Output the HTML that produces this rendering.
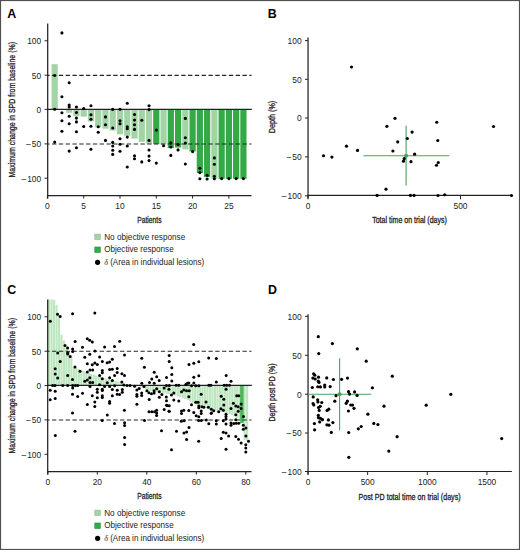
<!DOCTYPE html>
<html><head><meta charset="utf-8"><style>
html,body{margin:0;padding:0;background:#fff;width:520px;height:550px;overflow:hidden;}
svg{display:block;}
text{font-family:"Liberation Sans", sans-serif;}
.ti{stroke:#222;stroke-width:0.3px;}
</style></head><body>
<svg width="520" height="550" viewBox="0 0 520 550" font-family='"Liberation Sans", sans-serif'>
<rect x="0" y="0" width="520" height="550" fill="#fff"/>
<rect x="51.56" y="64.20" width="6.20" height="45.20" fill="#a3d4a6"/>
<rect x="66.08" y="109.40" width="6.20" height="3.40" fill="#a3d4a6"/>
<rect x="73.34" y="109.40" width="6.20" height="6.90" fill="#a3d4a6"/>
<rect x="80.60" y="109.40" width="6.20" height="7.20" fill="#a3d4a6"/>
<rect x="87.86" y="109.40" width="6.20" height="12.00" fill="#a3d4a6"/>
<rect x="95.12" y="109.40" width="6.20" height="18.00" fill="#a3d4a6"/>
<rect x="102.38" y="109.40" width="6.20" height="19.30" fill="#a3d4a6"/>
<rect x="109.64" y="109.40" width="6.20" height="21.10" fill="#a3d4a6"/>
<rect x="116.90" y="109.40" width="6.20" height="24.90" fill="#a3d4a6"/>
<rect x="124.16" y="109.40" width="6.20" height="26.40" fill="#a3d4a6"/>
<rect x="131.42" y="109.40" width="6.20" height="29.20" fill="#a3d4a6"/>
<rect x="138.68" y="109.40" width="6.20" height="32.40" fill="#a3d4a6"/>
<rect x="145.94" y="109.40" width="6.20" height="34.30" fill="#a3d4a6"/>
<rect x="153.20" y="109.40" width="6.20" height="34.70" fill="#35a945"/>
<rect x="160.46" y="109.40" width="6.20" height="35.20" fill="#a3d4a6"/>
<rect x="167.72" y="109.40" width="6.20" height="38.60" fill="#35a945"/>
<rect x="174.98" y="109.40" width="6.20" height="38.10" fill="#35a945"/>
<rect x="182.24" y="109.40" width="6.20" height="40.00" fill="#a3d4a6"/>
<rect x="189.50" y="109.40" width="6.20" height="42.00" fill="#35a945"/>
<rect x="196.76" y="109.40" width="6.20" height="63.60" fill="#35a945"/>
<rect x="204.02" y="109.40" width="6.20" height="67.60" fill="#35a945"/>
<rect x="211.28" y="109.40" width="6.20" height="69.40" fill="#a3d4a6"/>
<rect x="218.54" y="109.40" width="6.20" height="69.40" fill="#35a945"/>
<rect x="225.80" y="109.40" width="6.20" height="69.40" fill="#35a945"/>
<rect x="233.06" y="109.40" width="6.20" height="69.40" fill="#35a945"/>
<rect x="240.32" y="109.40" width="6.20" height="69.40" fill="#35a945"/>
<line x1="48" y1="75.4" x2="251.5" y2="75.4" stroke="#262626" stroke-width="1.1" stroke-dasharray="4.3 2.5" stroke-dashoffset="2.73"/>
<line x1="48" y1="144.0" x2="251.5" y2="144.0" stroke="#262626" stroke-width="1.1" stroke-dasharray="4.3 2.5" stroke-dashoffset="2.73"/>
<line x1="47.7" y1="109.4" x2="251.8" y2="109.4" stroke="#222" stroke-width="1.2"/>
<line x1="47.7" y1="23.5" x2="47.7" y2="198.4" stroke="#222" stroke-width="1.25"/>
<line x1="47.1" y1="195.6" x2="251.5" y2="195.6" stroke="#222" stroke-width="1.2"/>
<line x1="44.6" y1="40.8" x2="47.9" y2="40.8" stroke="#222" stroke-width="1"/>
<line x1="44.6" y1="75.2" x2="47.9" y2="75.2" stroke="#222" stroke-width="1"/>
<line x1="44.6" y1="109.4" x2="47.9" y2="109.4" stroke="#222" stroke-width="1"/>
<line x1="44.6" y1="143.9" x2="47.9" y2="143.9" stroke="#222" stroke-width="1"/>
<line x1="44.6" y1="178.2" x2="47.9" y2="178.2" stroke="#222" stroke-width="1"/>
<text x="41.20" y="44.10" font-size="8.4" text-anchor="end" fill="#222" >100</text>
<text x="41.20" y="78.50" font-size="8.4" text-anchor="end" fill="#222" >50</text>
<text x="41.20" y="112.70" font-size="8.4" text-anchor="end" fill="#222" >0</text>
<text x="41.20" y="147.20" font-size="8.4" text-anchor="end" fill="#222" >–<tspan dx="1.1">50</tspan></text>
<text x="41.20" y="181.50" font-size="8.4" text-anchor="end" fill="#222" >–<tspan dx="1.1">100</tspan></text>
<line x1="47.40" y1="195.6" x2="47.40" y2="198.6" stroke="#222" stroke-width="1"/>
<text x="47.40" y="209.10" font-size="8.4" text-anchor="middle" fill="#222" >0</text>
<line x1="83.70" y1="195.6" x2="83.70" y2="198.6" stroke="#222" stroke-width="1"/>
<text x="83.70" y="209.10" font-size="8.4" text-anchor="middle" fill="#222" >5</text>
<line x1="120.00" y1="195.6" x2="120.00" y2="198.6" stroke="#222" stroke-width="1"/>
<text x="120.00" y="209.10" font-size="8.4" text-anchor="middle" fill="#222" >10</text>
<line x1="156.30" y1="195.6" x2="156.30" y2="198.6" stroke="#222" stroke-width="1"/>
<text x="156.30" y="209.10" font-size="8.4" text-anchor="middle" fill="#222" >15</text>
<line x1="192.60" y1="195.6" x2="192.60" y2="198.6" stroke="#222" stroke-width="1"/>
<text x="192.60" y="209.10" font-size="8.4" text-anchor="middle" fill="#222" >20</text>
<line x1="228.90" y1="195.6" x2="228.90" y2="198.6" stroke="#222" stroke-width="1"/>
<text x="228.90" y="209.10" font-size="8.4" text-anchor="middle" fill="#222" >25</text>
<g fill="#000">
<circle cx="54.66" cy="75.50" r="1.55"/>
<circle cx="54.66" cy="109.20" r="1.55"/>
<circle cx="54.66" cy="142.10" r="1.55"/>
<circle cx="61.92" cy="32.90" r="1.55"/>
<circle cx="61.92" cy="96.70" r="1.55"/>
<circle cx="61.92" cy="112.80" r="1.55"/>
<circle cx="61.92" cy="120.70" r="1.55"/>
<circle cx="61.92" cy="131.25" r="1.55"/>
<circle cx="69.18" cy="82.80" r="1.55"/>
<circle cx="69.18" cy="105.10" r="1.55"/>
<circle cx="69.18" cy="107.00" r="1.55"/>
<circle cx="69.18" cy="116.20" r="1.55"/>
<circle cx="69.18" cy="123.70" r="1.55"/>
<circle cx="69.18" cy="151.10" r="1.55"/>
<circle cx="76.44" cy="107.00" r="1.55"/>
<circle cx="76.44" cy="112.50" r="1.55"/>
<circle cx="76.44" cy="118.10" r="1.55"/>
<circle cx="76.44" cy="121.90" r="1.55"/>
<circle cx="76.44" cy="131.80" r="1.55"/>
<circle cx="76.44" cy="147.70" r="1.55"/>
<circle cx="83.70" cy="108.50" r="1.55"/>
<circle cx="83.70" cy="126.50" r="1.55"/>
<circle cx="90.96" cy="105.80" r="1.55"/>
<circle cx="90.96" cy="114.70" r="1.55"/>
<circle cx="90.96" cy="119.30" r="1.55"/>
<circle cx="90.96" cy="126.25" r="1.55"/>
<circle cx="90.96" cy="149.20" r="1.55"/>
<circle cx="98.22" cy="126.70" r="1.55"/>
<circle cx="98.22" cy="132.20" r="1.55"/>
<circle cx="105.48" cy="116.90" r="1.55"/>
<circle cx="105.48" cy="124.80" r="1.55"/>
<circle cx="105.48" cy="140.40" r="1.55"/>
<circle cx="112.74" cy="109.40" r="1.55"/>
<circle cx="112.74" cy="128.00" r="1.55"/>
<circle cx="112.74" cy="142.40" r="1.55"/>
<circle cx="112.74" cy="146.00" r="1.55"/>
<circle cx="112.74" cy="150.30" r="1.55"/>
<circle cx="112.74" cy="154.40" r="1.55"/>
<circle cx="120.00" cy="109.20" r="1.55"/>
<circle cx="120.00" cy="120.80" r="1.55"/>
<circle cx="120.00" cy="123.70" r="1.55"/>
<circle cx="120.00" cy="138.80" r="1.55"/>
<circle cx="120.00" cy="144.20" r="1.55"/>
<circle cx="120.00" cy="151.20" r="1.55"/>
<circle cx="127.26" cy="103.20" r="1.55"/>
<circle cx="127.26" cy="126.70" r="1.55"/>
<circle cx="127.26" cy="128.70" r="1.55"/>
<circle cx="127.26" cy="137.10" r="1.55"/>
<circle cx="127.26" cy="146.00" r="1.55"/>
<circle cx="127.26" cy="167.00" r="1.55"/>
<circle cx="134.52" cy="114.50" r="1.55"/>
<circle cx="134.52" cy="120.00" r="1.55"/>
<circle cx="134.52" cy="124.80" r="1.55"/>
<circle cx="134.52" cy="129.40" r="1.55"/>
<circle cx="134.52" cy="155.80" r="1.55"/>
<circle cx="134.52" cy="158.70" r="1.55"/>
<circle cx="141.78" cy="120.30" r="1.55"/>
<circle cx="141.78" cy="161.90" r="1.55"/>
<circle cx="149.04" cy="105.80" r="1.55"/>
<circle cx="149.04" cy="109.60" r="1.55"/>
<circle cx="149.04" cy="140.40" r="1.55"/>
<circle cx="149.04" cy="150.00" r="1.55"/>
<circle cx="149.04" cy="156.10" r="1.55"/>
<circle cx="149.04" cy="160.60" r="1.55"/>
<circle cx="156.30" cy="130.10" r="1.55"/>
<circle cx="156.30" cy="163.10" r="1.55"/>
<circle cx="163.56" cy="145.80" r="1.55"/>
<circle cx="170.82" cy="142.90" r="1.55"/>
<circle cx="170.82" cy="147.00" r="1.55"/>
<circle cx="170.82" cy="155.40" r="1.55"/>
<circle cx="178.08" cy="144.40" r="1.55"/>
<circle cx="178.08" cy="149.90" r="1.55"/>
<circle cx="185.34" cy="118.40" r="1.55"/>
<circle cx="185.34" cy="137.70" r="1.55"/>
<circle cx="185.34" cy="143.00" r="1.55"/>
<circle cx="185.34" cy="164.00" r="1.55"/>
<circle cx="192.60" cy="151.60" r="1.55"/>
<circle cx="199.86" cy="168.30" r="1.55"/>
<circle cx="199.86" cy="172.60" r="1.55"/>
<circle cx="199.86" cy="178.80" r="1.55"/>
<circle cx="207.12" cy="175.30" r="1.55"/>
<circle cx="207.12" cy="179.00" r="1.55"/>
<circle cx="214.38" cy="157.90" r="1.55"/>
<circle cx="214.38" cy="164.20" r="1.55"/>
<circle cx="214.38" cy="176.30" r="1.55"/>
<circle cx="214.38" cy="178.80" r="1.55"/>
<circle cx="221.64" cy="178.60" r="1.55"/>
<circle cx="228.90" cy="178.60" r="1.55"/>
<circle cx="236.16" cy="178.60" r="1.55"/>
<circle cx="243.42" cy="178.60" r="1.55"/>
</g>
<text x="7.3" y="17.8" font-size="12.4" font-weight="bold" fill="#000">A</text>
<text x="149.4" y="223.1" font-size="9.2" text-anchor="middle" fill="#222" class="ti" textLength="24.2" lengthAdjust="spacingAndGlyphs">Patients</text>
<text transform="translate(14.9,109.75) rotate(-90)" x="0" y="0" font-size="9.6" text-anchor="middle" fill="#222" class="ti" textLength="135.5" lengthAdjust="spacingAndGlyphs">Maximum change in SPD from baseline (%)</text>
<rect x="94.8" y="234.1" width="5.5" height="5.5" fill="#a3d4a6" stroke="#8db893" stroke-width="0.6"/>
<rect x="94.8" y="247.0" width="5.5" height="5.5" fill="#30ad45" stroke="#26883a" stroke-width="0.6"/>
<circle cx="97.6" cy="262.3" r="2.6" fill="#000"/>
<text x="104.2" y="239.8" font-size="8.6" fill="#222" textLength="81" lengthAdjust="spacingAndGlyphs">No objective response</text>
<text x="104.2" y="252.2" font-size="8.6" fill="#222" textLength="69.5" lengthAdjust="spacingAndGlyphs">Objective response</text>
<text x="104.2" y="265.0" font-size="8.6" fill="#222" textLength="100" lengthAdjust="spacingAndGlyphs"><tspan font-family="'Liberation Serif', serif" font-style="italic">δ</tspan> (Area in individual lesions)</text>
<line x1="308.05" y1="37.5" x2="308.05" y2="198.5" stroke="#484848" stroke-width="1.5"/>
<line x1="307.5" y1="195.4" x2="511.8" y2="195.4" stroke="#222" stroke-width="1.1"/>
<line x1="305" y1="40.6" x2="308" y2="40.6" stroke="#222" stroke-width="1"/>
<text x="301.60" y="43.90" font-size="8.4" text-anchor="end" fill="#222" >100</text>
<line x1="305" y1="79.3" x2="308" y2="79.3" stroke="#222" stroke-width="1"/>
<text x="301.60" y="82.60" font-size="8.4" text-anchor="end" fill="#222" >50</text>
<line x1="305" y1="118" x2="308" y2="118" stroke="#222" stroke-width="1"/>
<text x="301.60" y="121.30" font-size="8.4" text-anchor="end" fill="#222" >0</text>
<line x1="305" y1="156.9" x2="308" y2="156.9" stroke="#222" stroke-width="1"/>
<text x="301.60" y="160.20" font-size="8.4" text-anchor="end" fill="#222" >–<tspan dx="1.1">50</tspan></text>
<line x1="305" y1="195.8" x2="308" y2="195.8" stroke="#222" stroke-width="1"/>
<text x="301.60" y="199.10" font-size="8.4" text-anchor="end" fill="#222" >–<tspan dx="1.1">100</tspan></text>
<line x1="308.00" y1="195.8" x2="308.00" y2="199.3" stroke="#222" stroke-width="1"/>
<text x="308.00" y="209.20" font-size="8.4" text-anchor="middle" fill="#222" >0</text>
<line x1="460.50" y1="195.8" x2="460.50" y2="199.3" stroke="#222" stroke-width="1"/>
<text x="460.50" y="209.20" font-size="8.4" text-anchor="middle" fill="#222" >500</text>
<line x1="363.3" y1="155.8" x2="449.3" y2="155.8" stroke="#47a45a" stroke-width="1.1"/>
<line x1="406.1" y1="125.5" x2="406.1" y2="185.6" stroke="#47a45a" stroke-width="1.1"/>
<circle cx="406.1" cy="155.8" r="2.1" fill="#47a45a"/>
<g fill="#000">
<circle cx="351.50" cy="67.00" r="1.6"/>
<circle cx="395.00" cy="118.30" r="1.6"/>
<circle cx="386.90" cy="126.30" r="1.6"/>
<circle cx="436.75" cy="122.25" r="1.6"/>
<circle cx="493.50" cy="126.50" r="1.6"/>
<circle cx="412.10" cy="132.10" r="1.6"/>
<circle cx="407.30" cy="138.50" r="1.6"/>
<circle cx="397.70" cy="141.90" r="1.6"/>
<circle cx="437.75" cy="140.50" r="1.6"/>
<circle cx="346.50" cy="146.20" r="1.6"/>
<circle cx="357.50" cy="150.40" r="1.6"/>
<circle cx="392.90" cy="151.00" r="1.6"/>
<circle cx="323.50" cy="155.75" r="1.6"/>
<circle cx="331.90" cy="157.10" r="1.6"/>
<circle cx="414.60" cy="154.20" r="1.6"/>
<circle cx="404.20" cy="158.70" r="1.6"/>
<circle cx="403.50" cy="161.20" r="1.6"/>
<circle cx="411.00" cy="161.70" r="1.6"/>
<circle cx="438.25" cy="162.50" r="1.6"/>
<circle cx="436.50" cy="165.25" r="1.6"/>
<circle cx="386.00" cy="189.20" r="1.6"/>
<circle cx="377.10" cy="195.40" r="1.6"/>
<circle cx="410.40" cy="195.40" r="1.6"/>
<circle cx="414.00" cy="195.40" r="1.6"/>
<circle cx="438.00" cy="195.50" r="1.6"/>
<circle cx="444.75" cy="194.75" r="1.6"/>
<circle cx="511.50" cy="195.50" r="1.6"/>
</g>
<text x="267.7" y="17.8" font-size="12.4" font-weight="bold" fill="#000">B</text>
<text x="409.55" y="223.4" font-size="9.2" text-anchor="middle" fill="#222" class="ti" textLength="74.8" lengthAdjust="spacingAndGlyphs">Total time on trial (days)</text>
<text transform="translate(275.4,117.0) rotate(-90)" x="0" y="0" font-size="9.0" text-anchor="middle" fill="#222" class="ti" textLength="32.3" lengthAdjust="spacingAndGlyphs">Depth (%)</text>
<rect x="48.05" y="299.50" width="2.12" height="85.90" fill="#bee6bf"/>
<rect x="50.52" y="299.50" width="2.12" height="85.90" fill="#bee6bf"/>
<rect x="53.00" y="300.00" width="2.12" height="85.40" fill="#bee6bf"/>
<rect x="55.47" y="305.00" width="2.12" height="80.40" fill="#bee6bf"/>
<rect x="57.95" y="315.00" width="2.12" height="70.40" fill="#bee6bf"/>
<rect x="60.42" y="335.00" width="2.12" height="50.40" fill="#bee6bf"/>
<rect x="62.90" y="340.50" width="2.13" height="44.90" fill="#bee6bf"/>
<rect x="65.38" y="346.00" width="2.12" height="39.40" fill="#bee6bf"/>
<rect x="67.85" y="352.00" width="2.13" height="33.40" fill="#bee6bf"/>
<rect x="70.33" y="357.00" width="2.12" height="28.40" fill="#bee6bf"/>
<rect x="72.80" y="366.50" width="2.13" height="18.90" fill="#bee6bf"/>
<rect x="75.28" y="368.00" width="2.12" height="17.40" fill="#bee6bf"/>
<rect x="77.75" y="369.00" width="2.12" height="16.40" fill="#bee6bf"/>
<rect x="80.22" y="370.00" width="2.12" height="15.40" fill="#bee6bf"/>
<rect x="82.70" y="371.00" width="2.13" height="14.40" fill="#bee6bf"/>
<rect x="85.17" y="372.00" width="2.13" height="13.40" fill="#bee6bf"/>
<rect x="87.65" y="373.00" width="2.12" height="12.40" fill="#bee6bf"/>
<rect x="90.12" y="374.00" width="2.12" height="11.40" fill="#bee6bf"/>
<rect x="92.60" y="374.50" width="2.12" height="10.90" fill="#bee6bf"/>
<rect x="95.07" y="375.50" width="2.13" height="9.90" fill="#bee6bf"/>
<rect x="97.55" y="376.50" width="2.13" height="8.90" fill="#bee6bf"/>
<rect x="100.03" y="377.00" width="2.12" height="8.40" fill="#bee6bf"/>
<rect x="102.50" y="378.00" width="2.12" height="7.40" fill="#bee6bf"/>
<rect x="104.97" y="378.50" width="2.13" height="6.90" fill="#bee6bf"/>
<rect x="107.45" y="379.00" width="2.12" height="6.40" fill="#bee6bf"/>
<rect x="109.92" y="380.00" width="2.13" height="5.40" fill="#bee6bf"/>
<rect x="112.40" y="380.50" width="2.12" height="4.90" fill="#bee6bf"/>
<rect x="114.88" y="381.00" width="2.12" height="4.40" fill="#bee6bf"/>
<rect x="117.35" y="381.50" width="2.13" height="3.90" fill="#bee6bf"/>
<rect x="119.83" y="382.00" width="2.12" height="3.40" fill="#bee6bf"/>
<rect x="122.30" y="383.50" width="2.13" height="1.90" fill="#bee6bf"/>
<rect x="139.62" y="385.40" width="2.12" height="1.60" fill="#bee6bf"/>
<rect x="142.10" y="385.40" width="2.12" height="2.60" fill="#bee6bf"/>
<rect x="144.57" y="385.40" width="2.13" height="3.60" fill="#bee6bf"/>
<rect x="147.05" y="385.40" width="2.12" height="4.60" fill="#bee6bf"/>
<rect x="149.53" y="385.40" width="2.12" height="5.60" fill="#bee6bf"/>
<rect x="152.00" y="385.40" width="2.12" height="6.10" fill="#bee6bf"/>
<rect x="154.47" y="385.40" width="2.12" height="6.60" fill="#bee6bf"/>
<rect x="156.95" y="385.40" width="2.13" height="6.90" fill="#bee6bf"/>
<rect x="159.43" y="385.40" width="2.12" height="7.20" fill="#bee6bf"/>
<rect x="161.90" y="385.40" width="2.12" height="7.60" fill="#bee6bf"/>
<rect x="164.38" y="385.40" width="2.13" height="8.10" fill="#bee6bf"/>
<rect x="166.85" y="385.40" width="2.12" height="8.60" fill="#bee6bf"/>
<rect x="169.32" y="385.40" width="2.13" height="9.10" fill="#bee6bf"/>
<rect x="171.80" y="385.40" width="2.12" height="9.60" fill="#bee6bf"/>
<rect x="174.28" y="385.40" width="2.12" height="10.10" fill="#bee6bf"/>
<rect x="176.75" y="385.40" width="2.13" height="10.90" fill="#bee6bf"/>
<rect x="179.23" y="385.40" width="2.12" height="11.60" fill="#bee6bf"/>
<rect x="181.70" y="385.40" width="2.13" height="12.60" fill="#bee6bf"/>
<rect x="184.18" y="385.40" width="2.12" height="13.60" fill="#bee6bf"/>
<rect x="186.65" y="385.40" width="2.13" height="14.60" fill="#bee6bf"/>
<rect x="189.12" y="385.40" width="2.13" height="16.10" fill="#bee6bf"/>
<rect x="191.60" y="385.40" width="2.12" height="17.60" fill="#bee6bf"/>
<rect x="194.07" y="385.40" width="2.13" height="18.60" fill="#bee6bf"/>
<rect x="196.55" y="385.40" width="2.12" height="19.60" fill="#bee6bf"/>
<rect x="199.02" y="385.40" width="2.13" height="20.60" fill="#bee6bf"/>
<rect x="201.50" y="385.40" width="2.13" height="21.60" fill="#bee6bf"/>
<rect x="203.98" y="385.40" width="2.12" height="22.40" fill="#bee6bf"/>
<rect x="206.45" y="385.40" width="2.13" height="23.10" fill="#bee6bf"/>
<rect x="208.93" y="385.40" width="2.12" height="23.80" fill="#bee6bf"/>
<rect x="211.40" y="385.40" width="2.13" height="24.40" fill="#bee6bf"/>
<rect x="213.88" y="385.40" width="2.13" height="25.00" fill="#bee6bf"/>
<rect x="216.35" y="385.40" width="2.12" height="25.60" fill="#bee6bf"/>
<rect x="218.82" y="385.40" width="2.13" height="26.10" fill="#bee6bf"/>
<rect x="221.30" y="385.40" width="2.12" height="26.60" fill="#bee6bf"/>
<rect x="223.77" y="385.40" width="2.13" height="27.10" fill="#bee6bf"/>
<rect x="226.25" y="385.40" width="2.13" height="27.60" fill="#bee6bf"/>
<rect x="228.73" y="385.40" width="2.12" height="28.60" fill="#bee6bf"/>
<rect x="231.20" y="385.40" width="2.13" height="29.60" fill="#bee6bf"/>
<rect x="233.68" y="385.40" width="2.12" height="31.10" fill="#bee6bf"/>
<rect x="236.15" y="385.40" width="2.13" height="32.60" fill="#bee6bf"/>
<rect x="238.62" y="385.40" width="2.13" height="34.60" fill="#bee6bf"/>
<rect x="240.1" y="385.40" width="3.9" height="37.60" fill="#4cb65a"/>
<rect x="243.57" y="385.40" width="2.13" height="54.60" fill="#bee6bf"/>
<rect x="246.05" y="385.40" width="2.12" height="55.60" fill="#bee6bf"/>
<line x1="48" y1="351.3" x2="251.5" y2="351.3" stroke="#262626" stroke-width="1.1" stroke-dasharray="4.3 2.5" stroke-dashoffset="2.73"/>
<line x1="48" y1="420.0" x2="251.5" y2="420.0" stroke="#262626" stroke-width="1.1" stroke-dasharray="4.3 2.5" stroke-dashoffset="2.73"/>
<line x1="47.7" y1="385.4" x2="251.8" y2="385.4" stroke="#222" stroke-width="1.2"/>
<line x1="47.7" y1="299.5" x2="47.7" y2="474.4" stroke="#222" stroke-width="1.25"/>
<line x1="47.1" y1="471.6" x2="251.5" y2="471.6" stroke="#222" stroke-width="1.2"/>
<line x1="44.6" y1="316.8" x2="47.9" y2="316.8" stroke="#222" stroke-width="1"/>
<text x="41.20" y="320.10" font-size="8.4" text-anchor="end" fill="#222" >100</text>
<line x1="44.6" y1="351.2" x2="47.9" y2="351.2" stroke="#222" stroke-width="1"/>
<text x="41.20" y="354.50" font-size="8.4" text-anchor="end" fill="#222" >50</text>
<line x1="44.6" y1="385.5" x2="47.9" y2="385.5" stroke="#222" stroke-width="1"/>
<text x="41.20" y="388.80" font-size="8.4" text-anchor="end" fill="#222" >0</text>
<line x1="44.6" y1="419.9" x2="47.9" y2="419.9" stroke="#222" stroke-width="1"/>
<text x="41.20" y="423.20" font-size="8.4" text-anchor="end" fill="#222" >–<tspan dx="1.1">50</tspan></text>
<line x1="44.6" y1="454.3" x2="47.9" y2="454.3" stroke="#222" stroke-width="1"/>
<text x="41.20" y="457.60" font-size="8.4" text-anchor="end" fill="#222" >–<tspan dx="1.1">100</tspan></text>
<line x1="47.80" y1="471.6" x2="47.80" y2="474.6" stroke="#222" stroke-width="1"/>
<text x="47.80" y="485.10" font-size="8.4" text-anchor="middle" fill="#222" >0</text>
<line x1="97.30" y1="471.6" x2="97.30" y2="474.6" stroke="#222" stroke-width="1"/>
<text x="97.30" y="485.10" font-size="8.4" text-anchor="middle" fill="#222" >20</text>
<line x1="146.80" y1="471.6" x2="146.80" y2="474.6" stroke="#222" stroke-width="1"/>
<text x="146.80" y="485.10" font-size="8.4" text-anchor="middle" fill="#222" >40</text>
<line x1="196.30" y1="471.6" x2="196.30" y2="474.6" stroke="#222" stroke-width="1"/>
<text x="196.30" y="485.10" font-size="8.4" text-anchor="middle" fill="#222" >60</text>
<line x1="245.80" y1="471.6" x2="245.80" y2="474.6" stroke="#222" stroke-width="1"/>
<text x="245.80" y="485.10" font-size="8.4" text-anchor="middle" fill="#222" >80</text>
<g fill="#000">
<circle cx="50.30" cy="321.30" r="1.5"/>
<circle cx="57.50" cy="314.20" r="1.5"/>
<circle cx="60.20" cy="316.50" r="1.5"/>
<circle cx="72.60" cy="313.75" r="1.5"/>
<circle cx="94.80" cy="313.00" r="1.5"/>
<circle cx="87.30" cy="338.75" r="1.5"/>
<circle cx="89.70" cy="340.20" r="1.5"/>
<circle cx="92.30" cy="342.10" r="1.5"/>
<circle cx="75.10" cy="341.50" r="1.5"/>
<circle cx="82.50" cy="347.30" r="1.5"/>
<circle cx="65.00" cy="345.40" r="1.5"/>
<circle cx="67.60" cy="347.90" r="1.5"/>
<circle cx="72.60" cy="349.00" r="1.5"/>
<circle cx="119.70" cy="341.20" r="1.5"/>
<circle cx="104.60" cy="346.90" r="1.5"/>
<circle cx="114.50" cy="346.60" r="1.5"/>
<circle cx="193.70" cy="344.60" r="1.5"/>
<circle cx="72.70" cy="351.50" r="1.5"/>
<circle cx="57.70" cy="352.90" r="1.5"/>
<circle cx="67.70" cy="352.70" r="1.5"/>
<circle cx="67.70" cy="354.10" r="1.5"/>
<circle cx="70.20" cy="356.50" r="1.5"/>
<circle cx="84.80" cy="357.30" r="1.5"/>
<circle cx="60.20" cy="361.50" r="1.5"/>
<circle cx="75.00" cy="366.90" r="1.5"/>
<circle cx="80.00" cy="371.20" r="1.5"/>
<circle cx="55.20" cy="368.80" r="1.5"/>
<circle cx="55.20" cy="374.10" r="1.5"/>
<circle cx="57.70" cy="377.90" r="1.5"/>
<circle cx="67.70" cy="375.60" r="1.5"/>
<circle cx="72.50" cy="379.60" r="1.5"/>
<circle cx="84.80" cy="381.20" r="1.5"/>
<circle cx="95.00" cy="351.00" r="1.5"/>
<circle cx="89.80" cy="354.20" r="1.5"/>
<circle cx="124.50" cy="354.90" r="1.5"/>
<circle cx="99.60" cy="356.90" r="1.5"/>
<circle cx="112.30" cy="359.20" r="1.5"/>
<circle cx="102.30" cy="361.40" r="1.5"/>
<circle cx="107.20" cy="362.70" r="1.5"/>
<circle cx="109.60" cy="362.10" r="1.5"/>
<circle cx="87.30" cy="363.70" r="1.5"/>
<circle cx="92.30" cy="364.80" r="1.5"/>
<circle cx="94.80" cy="363.10" r="1.5"/>
<circle cx="97.30" cy="364.60" r="1.5"/>
<circle cx="90.00" cy="370.00" r="1.5"/>
<circle cx="92.70" cy="370.00" r="1.5"/>
<circle cx="87.30" cy="371.90" r="1.5"/>
<circle cx="102.30" cy="370.40" r="1.5"/>
<circle cx="102.30" cy="372.80" r="1.5"/>
<circle cx="109.60" cy="369.50" r="1.5"/>
<circle cx="112.30" cy="369.20" r="1.5"/>
<circle cx="117.20" cy="368.50" r="1.5"/>
<circle cx="117.20" cy="372.50" r="1.5"/>
<circle cx="99.60" cy="375.40" r="1.5"/>
<circle cx="114.60" cy="375.60" r="1.5"/>
<circle cx="121.90" cy="373.80" r="1.5"/>
<circle cx="124.50" cy="375.40" r="1.5"/>
<circle cx="89.80" cy="377.70" r="1.5"/>
<circle cx="102.30" cy="378.80" r="1.5"/>
<circle cx="109.60" cy="377.70" r="1.5"/>
<circle cx="112.30" cy="380.40" r="1.5"/>
<circle cx="87.30" cy="380.00" r="1.5"/>
<circle cx="90.00" cy="382.50" r="1.5"/>
<circle cx="92.70" cy="382.50" r="1.5"/>
<circle cx="107.30" cy="382.80" r="1.5"/>
<circle cx="121.90" cy="381.90" r="1.5"/>
<circle cx="141.80" cy="358.20" r="1.5"/>
<circle cx="144.40" cy="367.20" r="1.5"/>
<circle cx="154.20" cy="372.30" r="1.5"/>
<circle cx="156.70" cy="376.70" r="1.5"/>
<circle cx="151.80" cy="379.10" r="1.5"/>
<circle cx="159.20" cy="380.50" r="1.5"/>
<circle cx="149.50" cy="382.50" r="1.5"/>
<circle cx="141.80" cy="383.20" r="1.5"/>
<circle cx="154.20" cy="383.20" r="1.5"/>
<circle cx="169.20" cy="355.60" r="1.5"/>
<circle cx="169.20" cy="361.50" r="1.5"/>
<circle cx="171.80" cy="367.70" r="1.5"/>
<circle cx="189.00" cy="364.60" r="1.5"/>
<circle cx="193.80" cy="363.20" r="1.5"/>
<circle cx="198.80" cy="361.80" r="1.5"/>
<circle cx="171.80" cy="374.40" r="1.5"/>
<circle cx="166.50" cy="377.50" r="1.5"/>
<circle cx="171.80" cy="381.00" r="1.5"/>
<circle cx="193.80" cy="377.30" r="1.5"/>
<circle cx="198.80" cy="375.80" r="1.5"/>
<circle cx="188.80" cy="383.10" r="1.5"/>
<circle cx="193.80" cy="383.10" r="1.5"/>
<circle cx="208.70" cy="358.00" r="1.5"/>
<circle cx="216.30" cy="358.50" r="1.5"/>
<circle cx="226.20" cy="375.60" r="1.5"/>
<circle cx="216.30" cy="382.00" r="1.5"/>
<circle cx="231.00" cy="381.30" r="1.5"/>
<circle cx="52.70" cy="385.50" r="1.5"/>
<circle cx="55.00" cy="385.50" r="1.5"/>
<circle cx="62.70" cy="385.50" r="1.5"/>
<circle cx="67.70" cy="385.50" r="1.5"/>
<circle cx="72.70" cy="385.50" r="1.5"/>
<circle cx="75.40" cy="385.50" r="1.5"/>
<circle cx="77.70" cy="385.50" r="1.5"/>
<circle cx="72.70" cy="387.90" r="1.5"/>
<circle cx="50.20" cy="390.20" r="1.5"/>
<circle cx="55.20" cy="391.20" r="1.5"/>
<circle cx="72.50" cy="394.20" r="1.5"/>
<circle cx="77.70" cy="396.40" r="1.5"/>
<circle cx="82.50" cy="393.20" r="1.5"/>
<circle cx="50.20" cy="399.80" r="1.5"/>
<circle cx="55.20" cy="398.60" r="1.5"/>
<circle cx="72.50" cy="412.90" r="1.5"/>
<circle cx="99.60" cy="384.80" r="1.5"/>
<circle cx="90.00" cy="386.50" r="1.5"/>
<circle cx="104.60" cy="386.60" r="1.5"/>
<circle cx="109.60" cy="386.60" r="1.5"/>
<circle cx="114.60" cy="385.70" r="1.5"/>
<circle cx="123.80" cy="384.90" r="1.5"/>
<circle cx="97.30" cy="389.20" r="1.5"/>
<circle cx="97.30" cy="392.20" r="1.5"/>
<circle cx="102.30" cy="389.20" r="1.5"/>
<circle cx="102.30" cy="390.60" r="1.5"/>
<circle cx="112.30" cy="389.50" r="1.5"/>
<circle cx="117.20" cy="390.20" r="1.5"/>
<circle cx="122.30" cy="389.40" r="1.5"/>
<circle cx="122.30" cy="392.20" r="1.5"/>
<circle cx="92.30" cy="395.70" r="1.5"/>
<circle cx="97.30" cy="397.80" r="1.5"/>
<circle cx="102.30" cy="395.80" r="1.5"/>
<circle cx="102.30" cy="397.60" r="1.5"/>
<circle cx="112.30" cy="395.70" r="1.5"/>
<circle cx="117.20" cy="394.20" r="1.5"/>
<circle cx="119.60" cy="394.50" r="1.5"/>
<circle cx="94.80" cy="402.00" r="1.5"/>
<circle cx="87.30" cy="404.50" r="1.5"/>
<circle cx="94.80" cy="406.50" r="1.5"/>
<circle cx="109.60" cy="401.50" r="1.5"/>
<circle cx="109.60" cy="403.20" r="1.5"/>
<circle cx="124.40" cy="410.30" r="1.5"/>
<circle cx="107.30" cy="415.10" r="1.5"/>
<circle cx="127.00" cy="385.50" r="1.5"/>
<circle cx="130.00" cy="385.50" r="1.5"/>
<circle cx="134.60" cy="386.30" r="1.5"/>
<circle cx="139.20" cy="388.40" r="1.5"/>
<circle cx="136.90" cy="389.90" r="1.5"/>
<circle cx="144.00" cy="386.60" r="1.5"/>
<circle cx="146.90" cy="390.70" r="1.5"/>
<circle cx="148.90" cy="392.70" r="1.5"/>
<circle cx="151.50" cy="393.80" r="1.5"/>
<circle cx="154.10" cy="390.70" r="1.5"/>
<circle cx="154.10" cy="393.00" r="1.5"/>
<circle cx="156.70" cy="388.70" r="1.5"/>
<circle cx="159.30" cy="391.80" r="1.5"/>
<circle cx="161.90" cy="394.40" r="1.5"/>
<circle cx="164.20" cy="388.10" r="1.5"/>
<circle cx="168.90" cy="389.20" r="1.5"/>
<circle cx="141.70" cy="393.00" r="1.5"/>
<circle cx="141.70" cy="395.50" r="1.5"/>
<circle cx="159.30" cy="397.20" r="1.5"/>
<circle cx="166.30" cy="397.00" r="1.5"/>
<circle cx="149.20" cy="399.50" r="1.5"/>
<circle cx="136.90" cy="394.50" r="1.5"/>
<circle cx="136.90" cy="396.30" r="1.5"/>
<circle cx="136.90" cy="404.20" r="1.5"/>
<circle cx="149.00" cy="411.70" r="1.5"/>
<circle cx="151.80" cy="411.70" r="1.5"/>
<circle cx="154.50" cy="411.70" r="1.5"/>
<circle cx="156.60" cy="410.30" r="1.5"/>
<circle cx="156.60" cy="412.90" r="1.5"/>
<circle cx="156.60" cy="415.50" r="1.5"/>
<circle cx="164.20" cy="409.60" r="1.5"/>
<circle cx="169.00" cy="411.25" r="1.5"/>
<circle cx="167.10" cy="405.50" r="1.5"/>
<circle cx="124.60" cy="422.80" r="1.5"/>
<circle cx="124.60" cy="425.40" r="1.5"/>
<circle cx="124.60" cy="437.50" r="1.5"/>
<circle cx="124.60" cy="444.60" r="1.5"/>
<circle cx="144.50" cy="420.40" r="1.5"/>
<circle cx="161.50" cy="430.80" r="1.5"/>
<circle cx="187.50" cy="383.30" r="1.5"/>
<circle cx="166.50" cy="385.60" r="1.5"/>
<circle cx="169.30" cy="385.60" r="1.5"/>
<circle cx="176.20" cy="385.30" r="1.5"/>
<circle cx="178.80" cy="385.30" r="1.5"/>
<circle cx="185.80" cy="384.50" r="1.5"/>
<circle cx="191.50" cy="385.70" r="1.5"/>
<circle cx="195.80" cy="385.70" r="1.5"/>
<circle cx="198.80" cy="385.70" r="1.5"/>
<circle cx="183.80" cy="389.90" r="1.5"/>
<circle cx="181.50" cy="391.80" r="1.5"/>
<circle cx="186.50" cy="390.70" r="1.5"/>
<circle cx="189.20" cy="390.70" r="1.5"/>
<circle cx="173.80" cy="393.00" r="1.5"/>
<circle cx="171.50" cy="394.90" r="1.5"/>
<circle cx="201.20" cy="394.20" r="1.5"/>
<circle cx="188.80" cy="396.80" r="1.5"/>
<circle cx="173.80" cy="399.90" r="1.5"/>
<circle cx="166.50" cy="400.70" r="1.5"/>
<circle cx="178.80" cy="401.10" r="1.5"/>
<circle cx="195.80" cy="402.20" r="1.5"/>
<circle cx="198.10" cy="402.20" r="1.5"/>
<circle cx="166.50" cy="405.30" r="1.5"/>
<circle cx="169.20" cy="405.70" r="1.5"/>
<circle cx="191.50" cy="404.80" r="1.5"/>
<circle cx="198.80" cy="406.10" r="1.5"/>
<circle cx="198.80" cy="407.80" r="1.5"/>
<circle cx="201.90" cy="406.80" r="1.5"/>
<circle cx="203.80" cy="407.20" r="1.5"/>
<circle cx="169.20" cy="411.20" r="1.5"/>
<circle cx="181.50" cy="411.10" r="1.5"/>
<circle cx="183.80" cy="410.30" r="1.5"/>
<circle cx="181.50" cy="413.40" r="1.5"/>
<circle cx="188.80" cy="410.50" r="1.5"/>
<circle cx="193.80" cy="412.50" r="1.5"/>
<circle cx="201.20" cy="410.90" r="1.5"/>
<circle cx="201.20" cy="413.40" r="1.5"/>
<circle cx="196.20" cy="415.70" r="1.5"/>
<circle cx="198.80" cy="416.80" r="1.5"/>
<circle cx="181.30" cy="421.20" r="1.5"/>
<circle cx="184.20" cy="420.70" r="1.5"/>
<circle cx="198.70" cy="420.40" r="1.5"/>
<circle cx="201.30" cy="420.40" r="1.5"/>
<circle cx="206.30" cy="419.90" r="1.5"/>
<circle cx="208.80" cy="423.75" r="1.5"/>
<circle cx="189.00" cy="427.60" r="1.5"/>
<circle cx="176.50" cy="431.20" r="1.5"/>
<circle cx="184.00" cy="432.90" r="1.5"/>
<circle cx="186.60" cy="431.90" r="1.5"/>
<circle cx="186.60" cy="439.40" r="1.5"/>
<circle cx="198.70" cy="441.30" r="1.5"/>
<circle cx="171.50" cy="449.70" r="1.5"/>
<circle cx="211.20" cy="413.20" r="1.5"/>
<circle cx="208.80" cy="385.20" r="1.5"/>
<circle cx="210.80" cy="385.20" r="1.5"/>
<circle cx="224.20" cy="385.20" r="1.5"/>
<circle cx="226.60" cy="385.20" r="1.5"/>
<circle cx="229.50" cy="385.20" r="1.5"/>
<circle cx="226.00" cy="389.30" r="1.5"/>
<circle cx="221.20" cy="396.30" r="1.5"/>
<circle cx="223.80" cy="399.30" r="1.5"/>
<circle cx="236.70" cy="395.80" r="1.5"/>
<circle cx="238.70" cy="395.80" r="1.5"/>
<circle cx="206.00" cy="402.00" r="1.5"/>
<circle cx="223.80" cy="405.10" r="1.5"/>
<circle cx="233.40" cy="403.20" r="1.5"/>
<circle cx="235.80" cy="405.90" r="1.5"/>
<circle cx="238.20" cy="406.80" r="1.5"/>
<circle cx="241.10" cy="404.00" r="1.5"/>
<circle cx="241.10" cy="408.60" r="1.5"/>
<circle cx="208.40" cy="407.30" r="1.5"/>
<circle cx="211.30" cy="409.30" r="1.5"/>
<circle cx="213.70" cy="410.70" r="1.5"/>
<circle cx="211.30" cy="413.10" r="1.5"/>
<circle cx="218.70" cy="411.80" r="1.5"/>
<circle cx="220.90" cy="408.80" r="1.5"/>
<circle cx="223.30" cy="410.20" r="1.5"/>
<circle cx="231.00" cy="408.60" r="1.5"/>
<circle cx="238.20" cy="411.20" r="1.5"/>
<circle cx="226.00" cy="414.20" r="1.5"/>
<circle cx="226.00" cy="416.60" r="1.5"/>
<circle cx="226.00" cy="418.90" r="1.5"/>
<circle cx="235.80" cy="414.70" r="1.5"/>
<circle cx="243.50" cy="416.50" r="1.5"/>
<circle cx="235.80" cy="419.70" r="1.5"/>
<circle cx="216.30" cy="420.70" r="1.5"/>
<circle cx="216.30" cy="424.00" r="1.5"/>
<circle cx="223.30" cy="420.70" r="1.5"/>
<circle cx="226.00" cy="424.00" r="1.5"/>
<circle cx="231.00" cy="423.10" r="1.5"/>
<circle cx="231.00" cy="425.20" r="1.5"/>
<circle cx="233.80" cy="423.60" r="1.5"/>
<circle cx="236.25" cy="423.30" r="1.5"/>
<circle cx="238.70" cy="423.30" r="1.5"/>
<circle cx="243.30" cy="425.20" r="1.5"/>
<circle cx="245.90" cy="428.10" r="1.5"/>
<circle cx="243.30" cy="429.30" r="1.5"/>
<circle cx="223.30" cy="432.20" r="1.5"/>
<circle cx="226.00" cy="433.00" r="1.5"/>
<circle cx="228.60" cy="436.00" r="1.5"/>
<circle cx="221.20" cy="438.50" r="1.5"/>
<circle cx="235.80" cy="436.50" r="1.5"/>
<circle cx="238.50" cy="439.20" r="1.5"/>
<circle cx="241.10" cy="443.10" r="1.5"/>
<circle cx="245.90" cy="436.00" r="1.5"/>
<circle cx="248.50" cy="441.30" r="1.5"/>
<circle cx="245.80" cy="444.80" r="1.5"/>
<circle cx="245.80" cy="448.00" r="1.5"/>
<circle cx="245.80" cy="452.00" r="1.5"/>
<circle cx="226.00" cy="449.20" r="1.5"/>
<circle cx="102.20" cy="420.50" r="1.5"/>
<circle cx="114.50" cy="423.50" r="1.5"/>
<circle cx="75.00" cy="431.20" r="1.5"/>
<circle cx="55.30" cy="435.40" r="1.5"/>
</g>
<text x="7.3" y="293.8" font-size="12.4" font-weight="bold" fill="#000">C</text>
<text x="149.4" y="499.2" font-size="9.2" text-anchor="middle" fill="#222" class="ti" textLength="24.2" lengthAdjust="spacingAndGlyphs">Patients</text>
<text transform="translate(14.9,385.75) rotate(-90)" x="0" y="0" font-size="9.6" text-anchor="middle" fill="#222" class="ti" textLength="135.5" lengthAdjust="spacingAndGlyphs">Maximum change in SPD from baseline (%)</text>
<rect x="94.8" y="510.1" width="5.5" height="5.5" fill="#a3d4a6" stroke="#8db893" stroke-width="0.6"/>
<rect x="94.8" y="523.0" width="5.5" height="5.5" fill="#30ad45" stroke="#26883a" stroke-width="0.6"/>
<circle cx="97.6" cy="538.3" r="2.6" fill="#000"/>
<text x="104.2" y="515.8" font-size="8.6" fill="#222" textLength="81" lengthAdjust="spacingAndGlyphs">No objective response</text>
<text x="104.2" y="528.2" font-size="8.6" fill="#222" textLength="69.5" lengthAdjust="spacingAndGlyphs">Objective response</text>
<text x="104.2" y="541.0" font-size="8.6" fill="#222" textLength="100" lengthAdjust="spacingAndGlyphs"><tspan font-family="'Liberation Serif', serif" font-style="italic">δ</tspan> (Area in individual lesions)</text>
<line x1="308.05" y1="314.3" x2="308.05" y2="474.5" stroke="#484848" stroke-width="1.5"/>
<line x1="307.5" y1="471.5" x2="511.9" y2="471.5" stroke="#222" stroke-width="1.1"/>
<line x1="305" y1="316.4" x2="308" y2="316.4" stroke="#222" stroke-width="1"/>
<text x="301.60" y="319.70" font-size="8.4" text-anchor="end" fill="#222" >100</text>
<line x1="305" y1="355.3" x2="308" y2="355.3" stroke="#222" stroke-width="1"/>
<text x="301.60" y="358.60" font-size="8.4" text-anchor="end" fill="#222" >50</text>
<line x1="305" y1="394.2" x2="308" y2="394.2" stroke="#222" stroke-width="1"/>
<text x="301.60" y="397.50" font-size="8.4" text-anchor="end" fill="#222" >0</text>
<line x1="305" y1="433" x2="308" y2="433" stroke="#222" stroke-width="1"/>
<text x="301.60" y="436.30" font-size="8.4" text-anchor="end" fill="#222" >–<tspan dx="1.1">50</tspan></text>
<line x1="305" y1="471.5" x2="308" y2="471.5" stroke="#222" stroke-width="1"/>
<text x="301.60" y="474.80" font-size="8.4" text-anchor="end" fill="#222" >–<tspan dx="1.1">100</tspan></text>
<line x1="308.00" y1="471.5" x2="308.00" y2="475" stroke="#222" stroke-width="1"/>
<text x="308.00" y="485.10" font-size="8.4" text-anchor="middle" fill="#222" >0</text>
<line x1="367.65" y1="471.5" x2="367.65" y2="475" stroke="#222" stroke-width="1"/>
<text x="367.65" y="485.10" font-size="8.4" text-anchor="middle" fill="#222" >500</text>
<line x1="427.30" y1="471.5" x2="427.30" y2="475" stroke="#222" stroke-width="1"/>
<text x="427.30" y="485.10" font-size="8.4" text-anchor="middle" fill="#222" >1000</text>
<line x1="486.95" y1="471.5" x2="486.95" y2="475" stroke="#222" stroke-width="1"/>
<text x="486.95" y="485.10" font-size="8.4" text-anchor="middle" fill="#222" >1500</text>
<line x1="308" y1="394.25" x2="371.3" y2="394.25" stroke="#47a45a" stroke-width="1.1"/>
<line x1="339.6" y1="358.2" x2="339.6" y2="430.6" stroke="#47a45a" stroke-width="1.1"/>
<circle cx="339.6" cy="394.25" r="2.1" fill="#47a45a"/>
<g fill="#000">
<circle cx="318.30" cy="336.70" r="1.6"/>
<circle cx="332.40" cy="343.60" r="1.6"/>
<circle cx="318.75" cy="353.60" r="1.6"/>
<circle cx="357.30" cy="348.80" r="1.6"/>
<circle cx="366.20" cy="361.20" r="1.6"/>
<circle cx="313.65" cy="373.80" r="1.6"/>
<circle cx="314.80" cy="375.20" r="1.6"/>
<circle cx="312.90" cy="378.10" r="1.6"/>
<circle cx="315.20" cy="379.00" r="1.6"/>
<circle cx="318.50" cy="377.20" r="1.6"/>
<circle cx="318.30" cy="381.20" r="1.6"/>
<circle cx="319.00" cy="382.40" r="1.6"/>
<circle cx="326.75" cy="377.90" r="1.6"/>
<circle cx="333.40" cy="379.50" r="1.6"/>
<circle cx="341.60" cy="379.30" r="1.6"/>
<circle cx="347.50" cy="378.10" r="1.6"/>
<circle cx="392.30" cy="376.20" r="1.6"/>
<circle cx="312.30" cy="387.50" r="1.6"/>
<circle cx="317.80" cy="386.75" r="1.6"/>
<circle cx="320.40" cy="386.90" r="1.6"/>
<circle cx="324.70" cy="385.00" r="1.6"/>
<circle cx="324.70" cy="387.00" r="1.6"/>
<circle cx="330.20" cy="386.60" r="1.6"/>
<circle cx="372.40" cy="387.80" r="1.6"/>
<circle cx="348.50" cy="391.70" r="1.6"/>
<circle cx="349.60" cy="394.10" r="1.6"/>
<circle cx="354.60" cy="391.90" r="1.6"/>
<circle cx="357.10" cy="395.40" r="1.6"/>
<circle cx="450.80" cy="394.30" r="1.6"/>
<circle cx="313.20" cy="396.90" r="1.6"/>
<circle cx="336.00" cy="395.70" r="1.6"/>
<circle cx="317.70" cy="399.80" r="1.6"/>
<circle cx="317.90" cy="401.90" r="1.6"/>
<circle cx="321.80" cy="402.50" r="1.6"/>
<circle cx="313.10" cy="403.50" r="1.6"/>
<circle cx="313.80" cy="405.00" r="1.6"/>
<circle cx="334.80" cy="401.20" r="1.6"/>
<circle cx="320.20" cy="406.30" r="1.6"/>
<circle cx="318.50" cy="407.50" r="1.6"/>
<circle cx="327.10" cy="410.40" r="1.6"/>
<circle cx="328.80" cy="409.20" r="1.6"/>
<circle cx="319.20" cy="410.40" r="1.6"/>
<circle cx="347.40" cy="401.20" r="1.6"/>
<circle cx="346.20" cy="403.30" r="1.6"/>
<circle cx="350.70" cy="405.00" r="1.6"/>
<circle cx="352.50" cy="405.10" r="1.6"/>
<circle cx="354.00" cy="408.30" r="1.6"/>
<circle cx="348.40" cy="411.00" r="1.6"/>
<circle cx="384.00" cy="406.20" r="1.6"/>
<circle cx="426.20" cy="405.20" r="1.6"/>
<circle cx="367.90" cy="414.20" r="1.6"/>
<circle cx="318.30" cy="415.40" r="1.6"/>
<circle cx="318.50" cy="417.80" r="1.6"/>
<circle cx="320.40" cy="418.30" r="1.6"/>
<circle cx="322.50" cy="419.70" r="1.6"/>
<circle cx="328.40" cy="419.90" r="1.6"/>
<circle cx="319.70" cy="421.90" r="1.6"/>
<circle cx="314.40" cy="423.60" r="1.6"/>
<circle cx="332.90" cy="422.60" r="1.6"/>
<circle cx="326.90" cy="424.80" r="1.6"/>
<circle cx="329.00" cy="425.20" r="1.6"/>
<circle cx="314.60" cy="429.80" r="1.6"/>
<circle cx="331.30" cy="432.40" r="1.6"/>
<circle cx="348.70" cy="432.60" r="1.6"/>
<circle cx="373.80" cy="423.40" r="1.6"/>
<circle cx="377.90" cy="424.60" r="1.6"/>
<circle cx="361.20" cy="426.50" r="1.6"/>
<circle cx="358.30" cy="428.80" r="1.6"/>
<circle cx="397.10" cy="436.70" r="1.6"/>
<circle cx="388.80" cy="451.10" r="1.6"/>
<circle cx="348.80" cy="457.30" r="1.6"/>
<circle cx="501.70" cy="438.60" r="1.6"/>
</g>
<text x="267.9" y="293.6" font-size="12.4" font-weight="bold" fill="#000">D</text>
<text x="409.6" y="499.6" font-size="9.2" text-anchor="middle" fill="#222" class="ti" textLength="102" lengthAdjust="spacingAndGlyphs">Post PD total time on trial (days)</text>
<text transform="translate(275.4,392.5) rotate(-90)" x="0" y="0" font-size="9.0" text-anchor="middle" fill="#222" class="ti" textLength="58" lengthAdjust="spacingAndGlyphs">Depth post PD (%)</text>
<rect x="0.5" y="0.5" width="519" height="549" fill="none" stroke="#505050" stroke-width="1.2"/>
</svg>
</body></html>
